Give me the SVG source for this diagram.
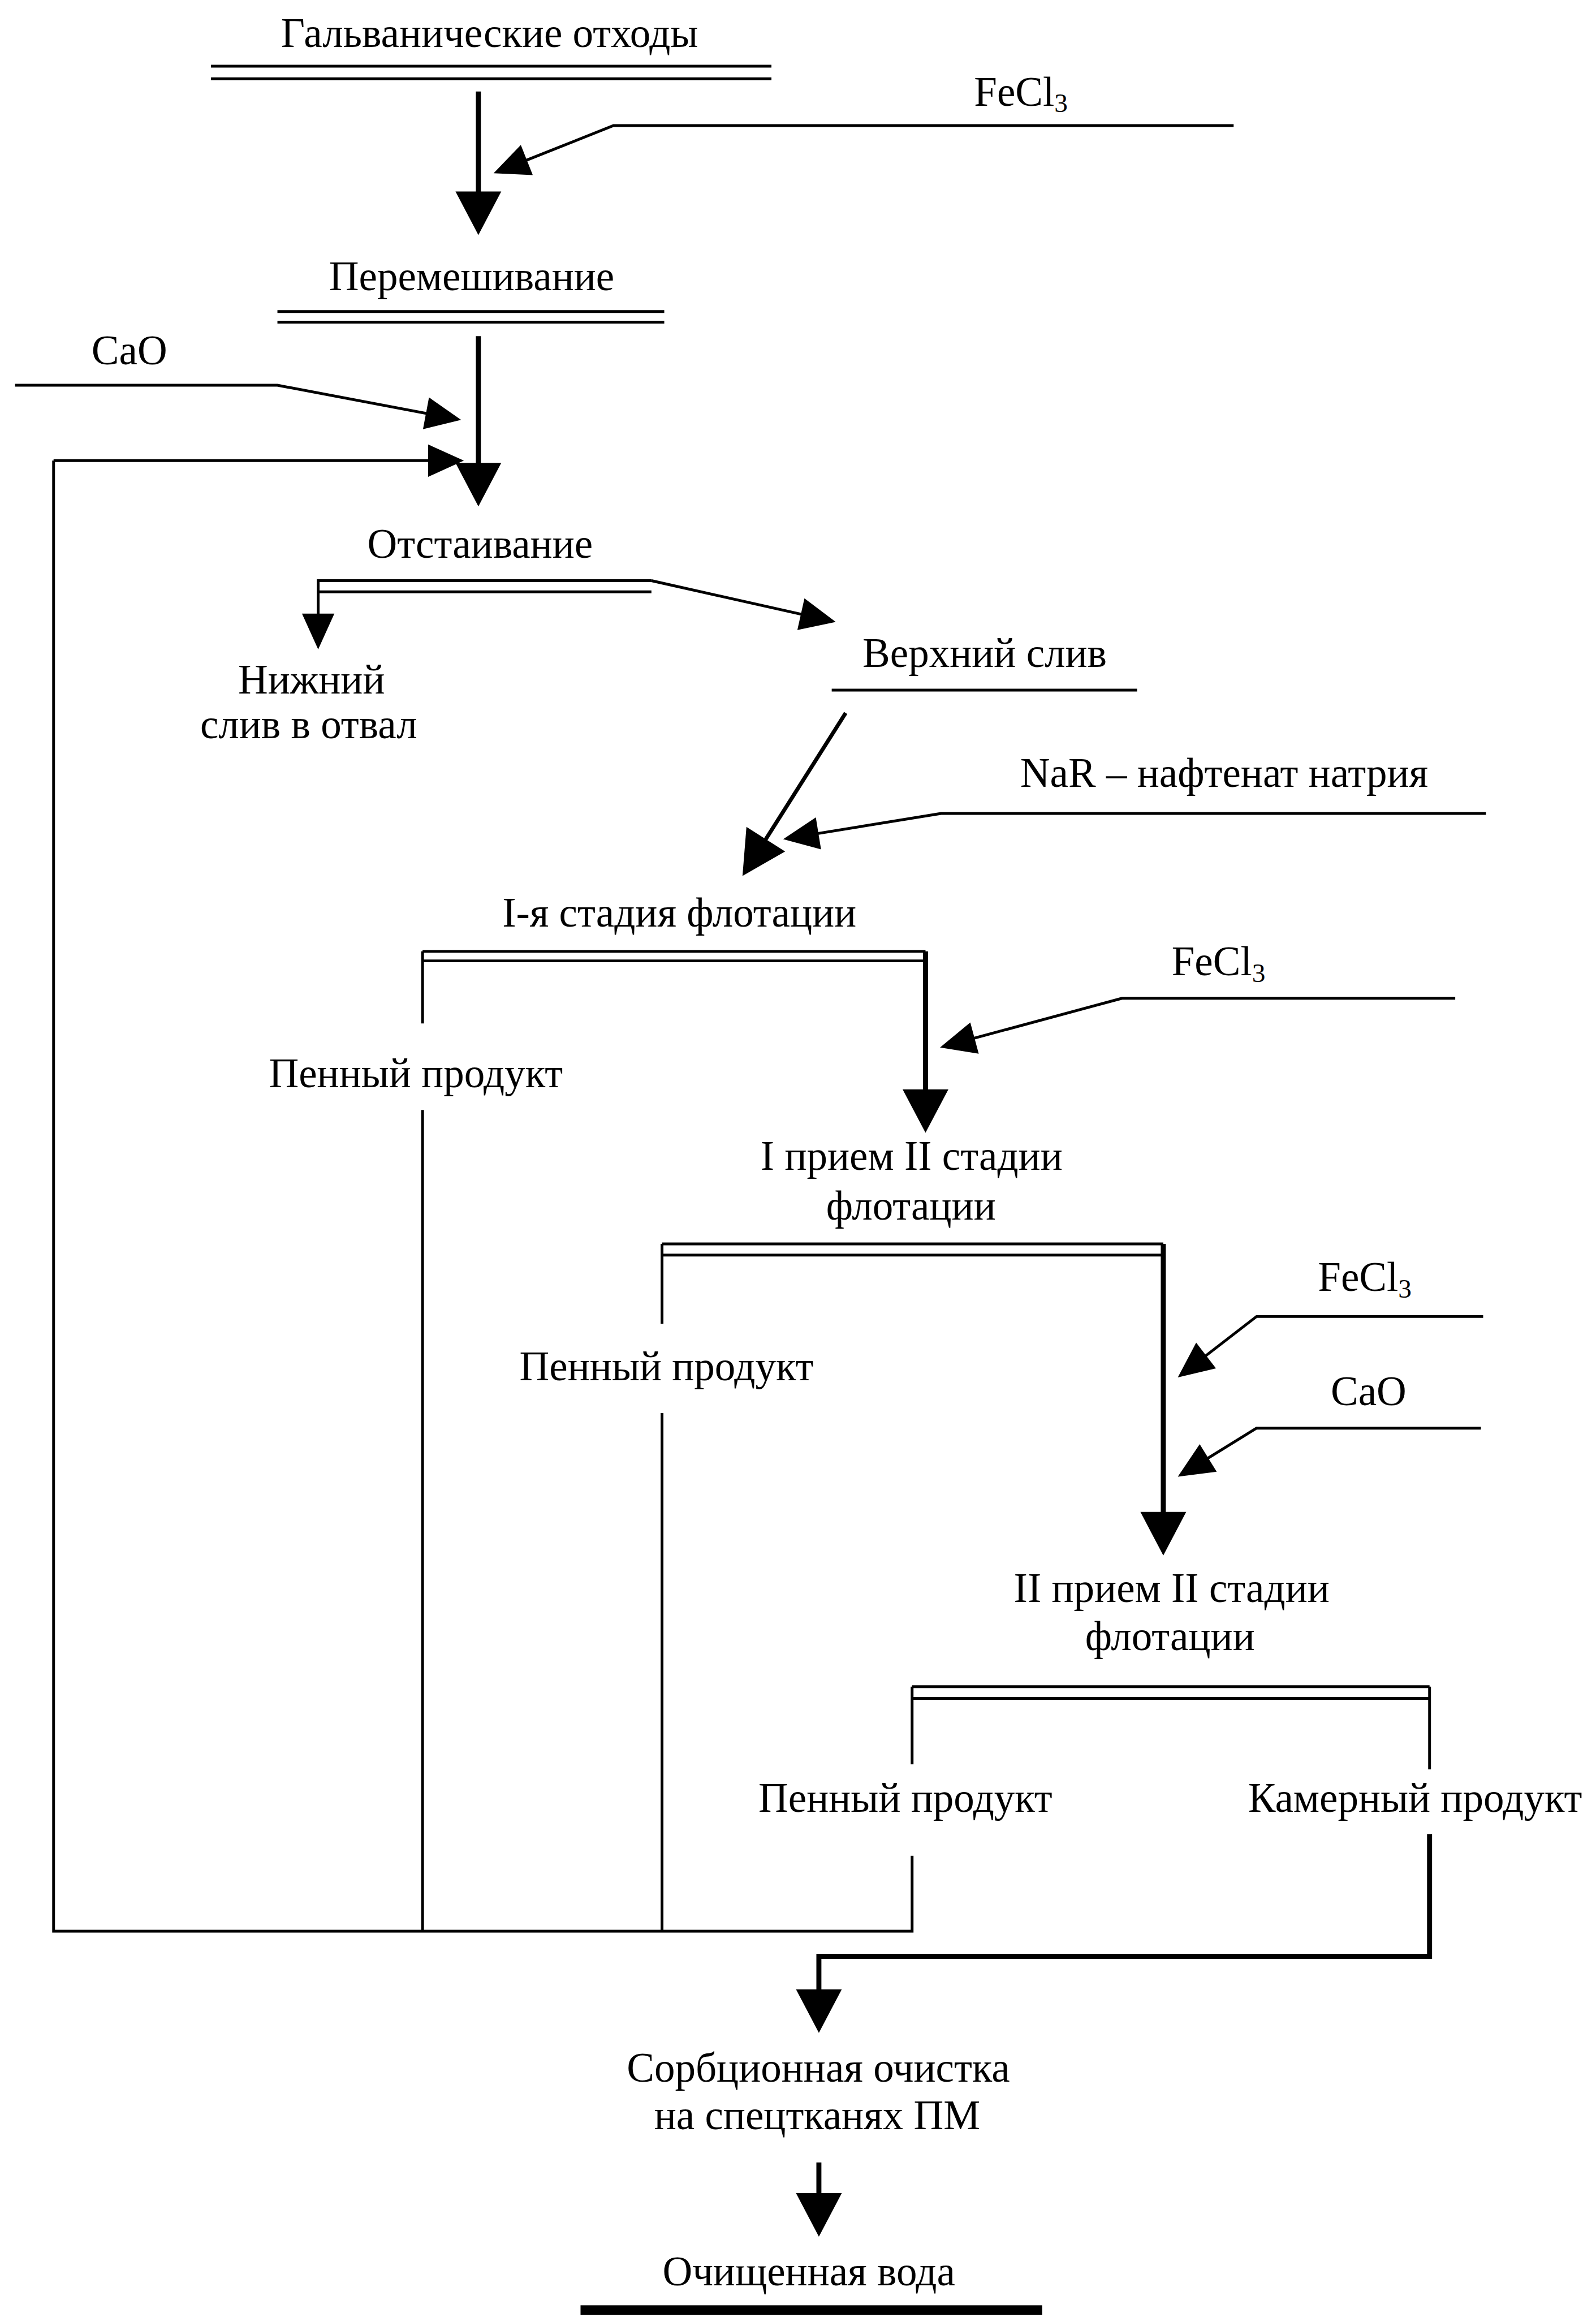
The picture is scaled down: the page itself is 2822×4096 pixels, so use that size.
<svg xmlns="http://www.w3.org/2000/svg" width="2822" height="4096" viewBox="0 0 2822 4096">
<defs>
<style>
text{font-family:"Liberation Serif","Times New Roman",serif;font-size:74px;fill:#000}
.m{text-anchor:middle}
.sub{font-size:48px}
.thin{fill:none;stroke:#000;stroke-width:5}
.thick{fill:none;stroke:#000;stroke-width:9}
.bigA{marker-end:url(#big)}
.smA{marker-end:url(#small)}
</style>
<marker id="big" markerUnits="userSpaceOnUse" markerWidth="78" markerHeight="82" viewBox="0 -41 78 82" refX="39" refY="0" orient="auto" overflow="visible"><path d="M0,-41 L78,0 L0,41 Z" fill="#000"/></marker>
<marker id="small" markerUnits="userSpaceOnUse" markerWidth="64" markerHeight="58" viewBox="0 -29 64 58" refX="32" refY="0" orient="auto" overflow="visible"><path d="M0,-29 L64,0 L0,29 Z" fill="#000"/></marker>
</defs>
<rect x="0" y="0" width="2822" height="4096" fill="#fff"/>
<g transform="scale(0.987)">
<g id="connectors">
<path class="thick bigA" d="M857,164 V382"/>
<path class="thin smA" d="M2210,225 H1099 L914,298.5"/>
<path class="thick bigA" d="M857,602 V868"/>
<path class="thin smA" d="M27,690 H497 L794.6,746.2"/>
<path class="thin" d="M1634,3324 V3459 H96 V825"/>
<path class="thin smA" d="M96,825 H799"/>
<path class="thin smA" d="M1167,1040 H570 V1131"/>
<path class="thin" d="M570,1060 H1167"/>
<path class="thin smA" d="M1167,1040 L1466,1107"/>
<path class="thick bigA" d="M1515,1277 L1351,1536" style="stroke-width:7"/>
<path class="thin smA" d="M2662,1457 H1686 L1434.6,1497.9"/>
<path class="thin" d="M757,1833 V1704"/>
<path class="thin" d="M757,1988 V3459"/>
<path class="thick bigA" d="M1658,1704 V1990"/>
<path class="thin smA" d="M2607,1788 H2010 L1714.9,1867.7"/>
<path class="thin" d="M1186,2371 V2228"/>
<path class="thin" d="M1186,2531 V3459"/>
<path class="thick bigA" d="M2084,2228 V2747"/>
<path class="thin smA" d="M2657,2358 H2251 L2135.3,2447.4"/>
<path class="thin smA" d="M2653,2558 H2251 L2137.2,2628.2"/>
<path class="thin" d="M1634,3160 V3021"/>
<path class="thin" d="M2561,3169 V3021"/>
<path class="thick bigA" d="M2561,3285 V3504 H1467 V3602"/>
<path class="thick bigA" d="M1467,3873 V3967"/>
</g>
<g id="n-galv">
<text class="m" x="877" y="84">Гальванические отходы</text>
<path class="thin" d="M378,118.5 H1382 M378,141 H1382"/>
</g>
<g id="n-fecl3-1"><text x="1745" y="189">FeCl<tspan class="sub" dy="12">3</tspan></text></g>
<g id="n-mix">
<text class="m" x="845" y="520">Перемешивание</text>
<path class="thin" d="M497,558 H1190 M497,577 H1190"/>
</g>
<g id="n-cao-1"><text x="164" y="652">CaO</text></g>
<g id="n-settle"><text class="m" x="860" y="999">Отстаивание</text></g>
<g id="n-lower"><text class="m" x="558" y="1242">Нижний</text><text class="m" x="553" y="1322">слив в отвал</text></g>
<g id="n-upper">
<text class="m" x="1764" y="1195">Верхний слив</text>
<path class="thin" d="M1490,1236 H2037"/>
</g>
<g id="n-nar"><text class="m" x="2193" y="1409">NaR – нафтенат натрия</text></g>
<g id="n-flot1">
<text class="m" x="1217" y="1660">I-я стадия флотации</text>
<path class="thin" d="M757,1704 H1658 M757,1721 H1658"/>
</g>
<g id="n-fecl3-2"><text x="2099" y="1747">FeCl<tspan class="sub" dy="12">3</tspan></text></g>
<g id="n-foam1"><text class="m" x="745" y="1947">Пенный продукт</text></g>
<g id="n-flot2a">
<text class="m" x="1633" y="2095">I прием II стадии</text>
<text class="m" x="1632" y="2184">флотации</text>
<path class="thin" d="M1186,2228 H2084 M1186,2248 H2084"/>
</g>
<g id="n-foam2"><text class="m" x="1194" y="2472">Пенный продукт</text></g>
<g id="n-fecl3-3"><text x="2361" y="2312">FeCl<tspan class="sub" dy="12">3</tspan></text></g>
<g id="n-cao-3"><text x="2384" y="2517">CaO</text></g>
<g id="n-flot2b">
<text class="m" x="2099" y="2869">II прием II стадии</text>
<text class="m" x="2096" y="2955">флотации</text>
<path class="thin" d="M1634,3021 H2561 M1634,3042 H2561"/>
</g>
<g id="n-foam3"><text class="m" x="1622" y="3245">Пенный продукт</text></g>
<g id="n-chamber"><text class="m" x="2535" y="3245">Камерный продукт</text></g>
<g id="n-sorb">
<text class="m" x="1466" y="3728">Сорбционная очистка</text>
<text class="m" x="1464" y="3814">на спецтканях ПМ</text>
</g>
<g id="n-clean">
<text class="m" x="1449" y="4093">Очищенная вода</text>
<rect x="1040" y="4129" width="827" height="17" fill="#000"/>
</g>
</g>
</svg>
